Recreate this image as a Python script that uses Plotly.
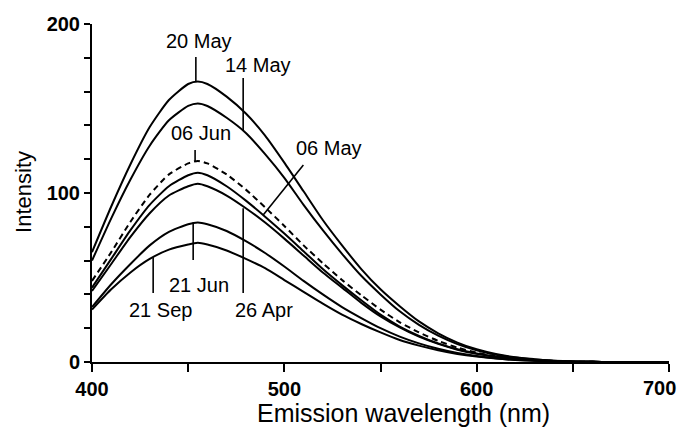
import plotly.graph_objects as go

wavelength = [400, 410, 420, 430, 440, 450, 455, 460, 470, 480, 490, 500, 510, 520, 530, 540, 550,
              560, 570, 580, 590, 600, 610, 620, 630, 640, 650, 660, 670, 680, 690, 700]

may20 = [65, 92, 117, 139, 155, 164.5, 166, 164.5, 157, 147, 134, 118, 101, 84, 69, 55, 43,
         33, 24, 17, 11.5, 7.5, 4.7, 2.8, 1.7, 0.8, 0.3, 0.1, 0, 0, 0, 0]
may14 = [60, 85, 108, 128, 143, 151.5, 153, 151.5, 144.5, 135.5, 123, 109, 93, 78, 64, 51, 40,
         30, 22, 15.6, 10.6, 6.9, 4.3, 2.6, 1.5, 0.8, 0.3, 0.1, 0, 0, 0, 0]
jun06 = [48, 65, 83, 99, 111, 117.5, 119, 117.5, 111, 102, 91.5, 80.5, 69, 58.5, 48.5, 39.5, 31,
         23.5, 17.5, 12.5, 8.5, 5.5, 3.4, 2.1, 1.2, 0.6, 0.2, 0.1, 0, 0, 0, 0]
may06 = [44, 61, 78, 93, 104, 110.5, 112, 110.5, 104, 95.5, 86, 76, 65.5, 55, 45.5, 36.5, 28,
         21, 15.5, 11, 7.5, 5, 3.1, 1.9, 1.1, 0.6, 0.2, 0.1, 0, 0, 0, 0]
apr26 = [42, 58, 74, 88, 98.5, 104, 105.5, 104, 98.5, 91, 82.5, 73, 63, 53, 44, 35, 27,
         20.5, 15, 10.7, 7.3, 4.8, 3, 1.8, 1.1, 0.5, 0.2, 0.1, 0, 0, 0, 0]
jun21 = [32.5, 46, 58, 69, 77, 81.5, 82.5, 81.5, 77.5, 71.5, 64.5, 56.5, 48, 40, 32.5, 26, 20,
         15, 11, 7.8, 5.3, 3.5, 2.2, 1.3, 0.8, 0.4, 0.2, 0.1, 0, 0, 0, 0]
sep21 = [31, 43, 53, 61, 66.5, 69.5, 70.5, 69.5, 66, 61, 55.5, 48.5, 41.5, 34.5, 28, 22.5, 17.5,
         13, 9.7, 7, 4.8, 3.2, 2, 1.2, 0.7, 0.4, 0.2, 0.1, 0, 0, 0, 0]

x_ticks = [400, 500, 600, 700]
y_ticks = [0, 100, 200]

series = [
    ("20 May", may20, "solid"),
    ("14 May", may14, "solid"),
    ("06 Jun", jun06, "6px,4px"),
    ("06 May", may06, "solid"),
    ("26 Apr", apr26, "solid"),
    ("21 Jun", jun21, "solid"),
    ("21 Sep", sep21, "solid"),
]

# label text, text position (x, y), pointer line (x0, y0, x1, y1)
labels = [
    ("20 May", 455.7, 190.0, (454.0, 166.0, 454.0, 180.5)),
    ("14 May", 486.5, 175.7, (478.6, 137.0, 478.6, 168.0)),
    ("06 Jun", 456.8, 135.5, (453.6, 119.0, 453.6, 125.4)),
    ("06 May", 523.4, 126.6, (489.0, 87.0, 509.9, 116.6)),
    ("26 Apr", 489.6, 30.8, (478.6, 91.0, 478.6, 40.8)),
    ("21 Jun", 455.7, 45.6, (452.6, 82.5, 452.6, 60.4)),
    ("21 Sep", 435.4, 30.8, (431.8, 62.0, 431.8, 40.8)),
]

FONT = "Liberation Sans, Arial, sans-serif"
TICKFONT = dict(family=FONT, size=20, color="black", weight="bold")

fig = go.Figure()
for name, vals, dash in series:
    fig.add_trace(go.Scatter(
        x=wavelength, y=vals, mode="lines", name=name,
        line=dict(color="black", width=2, dash=dash, shape="spline", smoothing=0.6),
        showlegend=False, hoverinfo="skip",
    ))

for text, tx, ty, (x0, y0, x1, y1) in labels:
    fig.add_shape(type="line", xref="x", yref="y", x0=x0, y0=y0, x1=x1, y1=y1,
                  line=dict(color="black", width=1.6))
    fig.add_annotation(x=tx, y=ty, xref="x", yref="y", text=text, showarrow=False,
                       xanchor="center", yanchor="middle",
                       font=dict(family=FONT, size=20, color="black"))

# last x tick label, nudged left so it stays inside the window
fig.add_annotation(x=x_ticks[-1], y=-0.076, xref="x", yref="paper", text=str(x_ticks[-1]),
                   showarrow=False, xanchor="center", yanchor="middle", xshift=-10, font=TICKFONT)

fig.add_annotation(x=0.54, y=-0.152, xref="paper", yref="paper", xanchor="center", yanchor="middle",
                   text="Emission wavelength (nm)", showarrow=False,
                   font=dict(family=FONT, size=25, color="black"))
fig.add_annotation(x=-0.118, y=0.503, xref="paper", yref="paper", xanchor="center", yanchor="middle",
                   text="Intensity", showarrow=False, textangle=-90,
                   font=dict(family=FONT, size=22, color="black"))

fig.update_layout(
    width=681, height=432,
    margin=dict(l=92, r=12, t=24, b=70, autoexpand=False),
    paper_bgcolor="white", plot_bgcolor="white",
    xaxis=dict(range=[400, 700], tickvals=x_ticks,
               ticktext=[str(v) for v in x_ticks[:-1]] + [""],
               ticks="outside", ticklen=8,
               tickwidth=1.6, tickcolor="black", showline=True, linecolor="black", linewidth=2,
               showgrid=False, zeroline=False, automargin=False,
               minor=dict(tickvals=[450, 550, 650], ticks="outside", ticklen=8, tickwidth=1.6, tickcolor="black"),
               tickfont=TICKFONT),
    yaxis=dict(range=[0, 200], tickvals=y_ticks, ticks="outside", ticklen=6,
               tickwidth=1.6, tickcolor="black", showline=True, linecolor="black", linewidth=2,
               showgrid=False, zeroline=False, automargin=False,
               minor=dict(tickvals=[20, 40, 60, 80, 120, 140, 160, 180], ticks="outside", ticklen=6,
                          tickwidth=1.6, tickcolor="black"),
               tickfont=TICKFONT),
)

fig.write_html("out.html", config={"displayModeBar": False},
               post_script="document.body.style.margin='0';document.body.style.overflow='hidden';")
